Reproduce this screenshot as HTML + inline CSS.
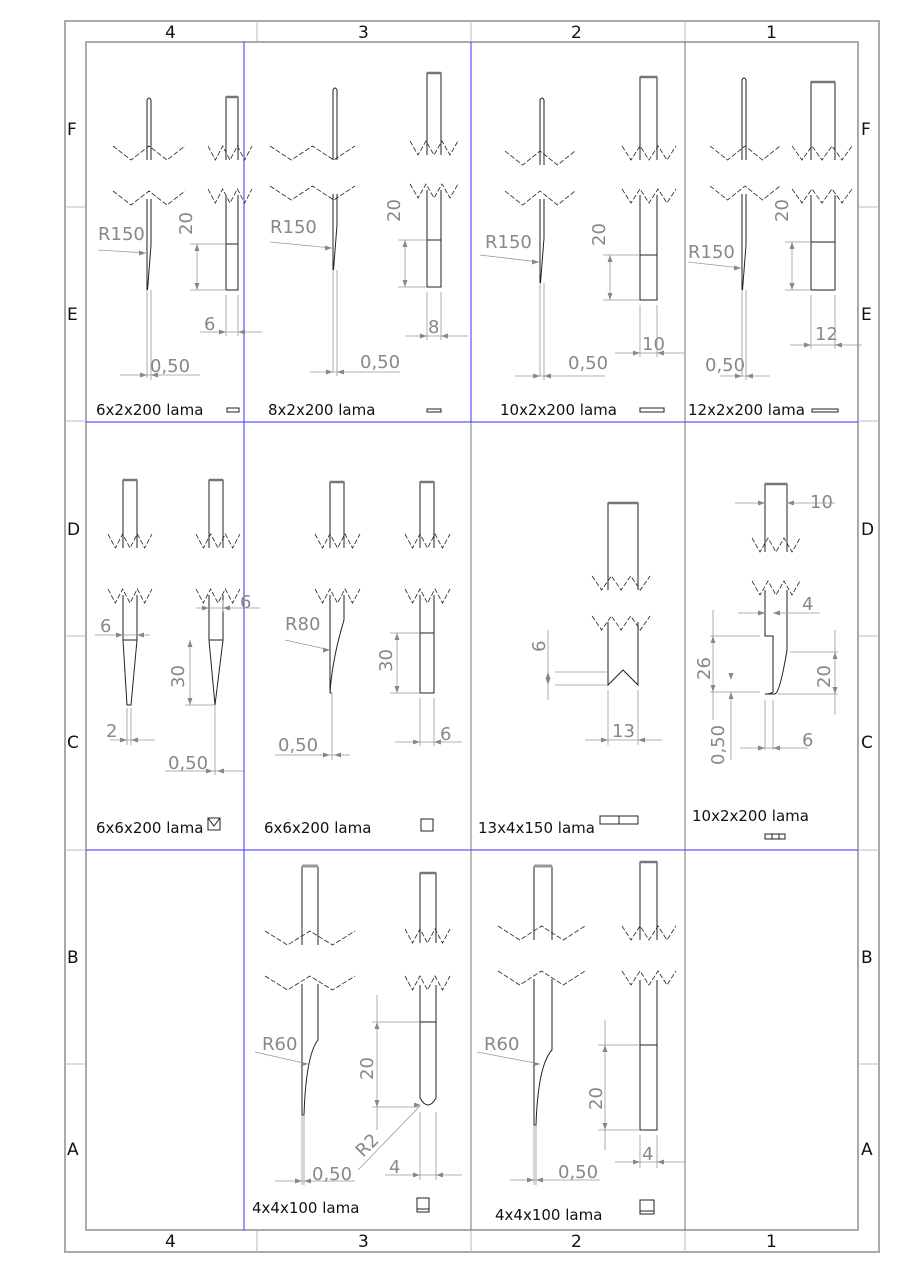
<!DOCTYPE html>
<html><head><meta charset="utf-8"><style>
html,body{margin:0;padding:0;background:#fff;width:900px;height:1273px;overflow:hidden}
svg{display:block}
.t{font-family:"DejaVu Sans","Liberation Sans",sans-serif;font-size:15px;fill:#111}
.d{font-family:"DejaVu Sans","Liberation Sans",sans-serif;font-size:18px;fill:#888}
.b{font-family:"DejaVu Sans","Liberation Sans",sans-serif;font-size:17px;fill:#111}
</style></head><body>
<svg id="s" width="900" height="1273" viewBox="0 0 900 1273" xmlns="http://www.w3.org/2000/svg">
<rect width="900" height="1273" fill="#fff"/>
<g fill="none" stroke="#aaa" stroke-width="2">
<rect x="65" y="21" width="814" height="1231"/>
<rect x="86" y="42" width="772" height="1188"/>
</g>
<g stroke="#bbb" stroke-width="1">
<line x1="257" y1="21" x2="257" y2="42"/><line x1="471" y1="21" x2="471" y2="42"/><line x1="685" y1="21" x2="685" y2="42"/>
<line x1="257" y1="1230" x2="257" y2="1252"/><line x1="471" y1="1230" x2="471" y2="1252"/><line x1="685" y1="1230" x2="685" y2="1252"/>
<line x1="65" y1="207" x2="86" y2="207"/><line x1="65" y1="421" x2="86" y2="421"/><line x1="65" y1="636" x2="86" y2="636"/><line x1="65" y1="850" x2="86" y2="850"/><line x1="65" y1="1064" x2="86" y2="1064"/>
<line x1="858" y1="207" x2="879" y2="207"/><line x1="858" y1="421" x2="879" y2="421"/><line x1="858" y1="636" x2="879" y2="636"/><line x1="858" y1="850" x2="879" y2="850"/><line x1="858" y1="1064" x2="879" y2="1064"/>
</g>
<g stroke="#33f" stroke-width="1">
<line x1="244" y1="42" x2="244" y2="1230"/>
<line x1="86" y1="422" x2="858" y2="422"/>
<line x1="86" y1="850" x2="858" y2="850"/>
<line x1="471" y1="42" x2="471" y2="422"/>
</g>
<g stroke="#777" stroke-width="1">
<line x1="685" y1="42" x2="685" y2="850"/>
<line x1="471" y1="422" x2="471" y2="1230"/>
<line x1="685" y1="850" x2="685" y2="1230"/>
</g>
<g class="b">
<text x="165" y="38">4</text><text x="358" y="38">3</text><text x="571" y="38">2</text><text x="766" y="38">1</text>
<text x="165" y="1247">4</text><text x="358" y="1247">3</text><text x="571" y="1247">2</text><text x="766" y="1247">1</text>
<text x="67" y="135">F</text><text x="67" y="320">E</text><text x="67" y="535">D</text><text x="67" y="748">C</text><text x="67" y="963">B</text><text x="67" y="1155">A</text>
<text x="861" y="135">F</text><text x="861" y="320">E</text><text x="861" y="535">D</text><text x="861" y="748">C</text><text x="861" y="963">B</text><text x="861" y="1155">A</text>
</g>
<g class="t">
<text x="96" y="415">6x2x200 lama</text>
<text x="268" y="415">8x2x200 lama</text>
<text x="500" y="415">10x2x200 lama</text>
<text x="688" y="415">12x2x200 lama</text>
<text x="96" y="833">6x6x200 lama</text>
<text x="264" y="833">6x6x200 lama</text>
<text x="478" y="833">13x4x150 lama</text>
<text x="692" y="821">10x2x200 lama</text>
<text x="252" y="1213">4x4x100 lama</text>
<text x="495" y="1220">4x4x100 lama</text>
</g>
<g class="d">
<text x="98" y="240">R150</text><text x="270" y="233">R150</text><text x="485" y="248">R150</text><text x="688" y="258">R150</text>
<text x="150" y="372">0,50</text><text x="360" y="368">0,50</text><text x="568" y="369">0,50</text><text x="705" y="371">0,50</text>
<text transform="translate(192,235) rotate(-90)">20</text>
<text transform="translate(400,222) rotate(-90)">20</text>
<text transform="translate(605,246) rotate(-90)">20</text>
<text transform="translate(788,222) rotate(-90)">20</text>
<text x="204" y="330">6</text><text x="428" y="333">8</text><text x="642" y="350">10</text><text x="815" y="340">12</text>
<text x="100" y="632">6</text><text x="240" y="608">6</text><text x="106" y="737">2</text><text x="168" y="769">0,50</text>
<text transform="translate(184,688) rotate(-90)">30</text>
<text x="285" y="630">R80</text><text x="278" y="751">0,50</text>
<text transform="translate(392,672) rotate(-90)">30</text><text x="440" y="740">6</text>
<text transform="translate(545,652) rotate(-90)">6</text><text x="612" y="737">13</text>
<text x="810" y="508">10</text><text x="802" y="610">4</text>
<text transform="translate(710,680) rotate(-90)">26</text>
<text transform="translate(830,688) rotate(-90)">20</text>
<text transform="translate(724,765) rotate(-90)">0,50</text>
<text x="802" y="746">6</text>
<text x="262" y="1050">R60</text><text x="312" y="1180">0,50</text>
<text transform="translate(373,1080) rotate(-90)">20</text>
<text transform="translate(363,1158) rotate(-45)">R2</text>
<text x="389" y="1173">4</text>
<text x="484" y="1050">R60</text><text x="558" y="1178">0,50</text>
<text transform="translate(602,1110) rotate(-90)">20</text>
<text x="642" y="1160">4</text>
</g>
<g id="g" fill="none" stroke="#222" stroke-width="1"></g>
<g id="gd" fill="none" stroke="#999" stroke-width="0.8"></g>
<g id="ga" fill="#888"></g>
</svg>
<script>
var G=document.getElementById('g'),D=document.getElementById('gd'),A=document.getElementById('ga');
var NS='http://www.w3.org/2000/svg';
function el(p,t,a){var e=document.createElementNS(NS,t);for(var k in a)e.setAttribute(k,a[k]);p.appendChild(e);return e;}
function L(x1,y1,x2,y2,p){el(p||G,'line',{x1:x1,y1:y1,x2:x2,y2:y2});}
function R(x,y,w,h){el(G,'rect',{x:x,y:y,width:w,height:h});}
function P(d){el(G,'path',{d:d});}
function zig(x0,x1,y,per,a){var s='',i=0;for(var x=x0;x<=x1+0.1;x+=per/2){s+=x+','+(y+(i%2?0:a))+' ';i++;}el(G,'polyline',{points:s,'stroke-dasharray':'5 2','stroke-width':0.8});}
function ar(x,y,dir){var s=7,w=2.5,pts;
 if(dir=='r')pts=[x,y,x-s,y-w,x-s,y+w];if(dir=='l')pts=[x,y,x+s,y-w,x+s,y+w];
 if(dir=='d')pts=[x,y,x-w,y-s,x+w,y-s];if(dir=='u')pts=[x,y,x-w,y+s,x+w,y+s];
 el(A,'polygon',{points:pts.join(',')});}
function hd(xa,xb,y,x0,x1){L(x0,y,x1,y,D);ar(xa,y,'r');ar(xb,y,'l');}
function vd(x,ya,yb,y0,y1){L(x,y0,x,y1,D);ar(x,ya,'u');ar(x,yb,'d');}
function thin(x,top,z1,z2,tip,cl,zx0,zx1,w){w=w||4;
 P('M'+x+' '+z1+' V'+(top+2)+' Q'+(x+w/2)+' '+(top-2)+' '+(x+w)+' '+(top+2)+' V'+z1);
 zig(zx0,zx1,z1,(zx1-zx0)/2,-14);zig(zx0,zx1,z2,(zx1-zx0)/2,-14);
 P('M'+x+' '+(z2-6)+' V'+tip+' M'+(x+w)+' '+(z2-6)+' V'+(tip-45)+' L'+(x+0.5)+' '+tip);
 L(x,tip,x,cl,D);}
function side(x,w,top,z1,z2,bot,mid,zx0,zx1){
 P('M'+x+' '+z1+' V'+top+' H'+(x+w)+' V'+z1);el(G,'line',{x1:x,y1:top,x2:x+w,y2:top,'stroke-width':2.5,stroke:'#777'});
 zig(zx0,zx1,z1,(zx1-zx0)/3,-14);zig(zx0,zx1,z2,(zx1-zx0)/3,-14);
 P('M'+x+' '+(z2-8)+' V'+bot+' H'+(x+w)+' V'+(z2-8));if(mid)L(x,mid,x+w,mid);}
thin(147,98,160,205,290,378,113,185);
side(226,12,97,160,203,290,244,208,252);
L(98,250,146,253,D);ar(146,253,'r');
vd(197,244,290,244,290);L(190,244,226,244,D);L(190,290,226,290,D);
L(226,295,226,336,D);L(238,295,238,336,D);hd(226,238,332,200,262);
hd(147,151,375,120,200);L(151,290,151,380,D);

thin(333,88,160,200,270,372,270,355);
side(427,14,73,155,198,287,240,410,458);
L(270,242,332,248,D);ar(332,248,'r');
vd(405,240,287,240,287);L(398,240,427,240,D);L(398,287,427,287,D);
L(427,292,427,340,D);L(441,292,441,340,D);hd(427,441,336,405,468);
hd(333,337,372,310,400);L(337,270,337,376,D);

thin(540,98,165,205,283,376,505,575);
side(640,17,77,160,203,300,255,622,676);
L(480,255,539,262,D);ar(539,262,'r');
vd(610,255,300,255,300);L(603,255,640,255,D);L(603,300,640,300,D);
L(640,305,640,357,D);L(657,305,657,357,D);hd(640,657,353,615,685);
hd(540,544,376,515,605);L(544,283,544,380,D);

thin(742,78,160,200,290,377,710,780);
side(811,24,82,160,203,290,242,792,852);
L(688,262,741,268,D);ar(741,268,'r');
vd(792,242,290,242,290);L(785,242,811,242,D);L(785,290,811,290,D);
L(811,295,811,349,D);L(835,295,835,349,D);hd(811,835,345,790,862);
hd(742,746,376,720,770);L(746,290,746,380,D);

function side2(x,w,top,z1,z2,zx0,zx1){P('M'+x+' '+z1+' V'+top+' H'+(x+w)+' V'+z1);el(G,'line',{x1:x,y1:top,x2:x+w,y2:top,'stroke-width':2.5,stroke:'#777'});
 zig(zx0,zx1,z1,(zx1-zx0)/3,-14);zig(zx0,zx1,z2,(zx1-zx0)/3,-14);}
side2(123,14,480,548,603,108,152);P('M123 595 V640 L127 705 H131 L137 640 V595');L(123,640,137,640);
hd(123,137,635,95,150);L(127,708,127,745,D);L(131,708,131,745,D);hd(127,131,740,110,155);
side2(209,14,480,548,603,196,240);P('M209 595 V640 L215 705 L223 640 V595');L(209,640,223,640);
vd(190,640,705,640,705);L(185,705,215,705,D);L(223,600,223,612,D);hd(209,223,608,196,260);
L(215,705,215,775,D);hd(213,217,771,165,245);
side2(330,14,482,548,603,315,360);P('M330 595 V693 Q332 660 344 620 V595');L(330,693,332,693);
L(285,640,330,650,D);ar(330,650,'r');L(332,693,332,760,D);hd(330,334,755,275,350);
side2(420,14,482,548,603,405,450);P('M420 595 V693 H434 V595');L(420,633,434,633);
vd(397,633,693,633,693);L(390,633,420,633,D);L(390,693,420,693,D);L(420,698,420,746,D);L(434,698,434,746,D);hd(420,434,742,395,462);
side2(608,30,503,590,630,592,650);P('M608 622 V685 L623 670 L638 685 V622');
L(555,672,608,672,D);L(555,685,608,685,D);vd(548,672,685,630,700);
L(608,690,608,745,D);L(638,690,638,745,D);hd(608,638,740,585,662);
side2(765,22,484,552,595,752,800);P('M765 590 V636 H773 V692 Q771 694 765 694 H775 Q780 692 787 650 V590');
L(735,503,765,503,D);L(787,503,805,503,D);ar(765,503,'r');ar(787,503,'l');L(805,503,835,503,D);
L(738,613,765,613,D);L(773,613,790,613,D);ar(765,613,'r');ar(773,613,'l');L(790,613,820,613,D);
L(710,636,760,636,D);L(710,692,760,692,D);vd(713,636,692,610,720);
L(731,692,731,760,D);ar(731,692,'u');ar(731,680,'d');
L(790,652,838,652,D);L(778,694,838,694,D);vd(835,652,694,630,715);
L(765,700,765,750,D);L(773,700,773,750,D);hd(765,773,748,740,808);
function thin2(x,w,top,z1,z2,tip,cl,zx0,zx1){
 P('M'+x+' '+z1+' V'+(top+2)+' H'+(x+w)+' V'+z1);el(G,'line',{x1:x,y1:top+1,x2:x+w,y2:top+1,'stroke-width':3,stroke:'#999'});
 zig(zx0,zx1,z1,(zx1-zx0)/2,-14);zig(zx0,zx1,z2,(zx1-zx0)/2,-14);
 P('M'+x+' '+(z2-6)+' V'+tip+' H'+(x+2)+' Q'+(x+4)+' '+(tip-60)+' '+(x+w)+' '+(tip-75)+' V'+(z2-6));L(x,tip,x,cl,D);L(x+2,tip,x+2,cl,D);}
thin2(302,16,865,945,990,1115,1185,265,355);
L(255,1052,308,1064,D);ar(308,1064,'r');hd(302,304,1181,275,355);
side2(420,16,873,943,990,405,450);P('M420 985 V1098 Q428 1112 436 1098 V985');L(420,1022,436,1022);
vd(377,1022,1107,995,1130);L(372,1022,420,1022,D);L(372,1107,420,1107,D);
L(358,1170,420,1106,D);ar(421,1105,'r');
L(420,1112,420,1180,D);L(436,1112,436,1180,D);hd(420,436,1175,385,462);
thin2(534,18,865,940,985,1125,1185,498,585);
L(477,1052,540,1064,D);ar(540,1064,'r');hd(534,536,1180,510,600);
side2(640,17,862,940,985,622,676);P('M640 980 V1130 H657 V980');L(640,1045,657,1045);
vd(605,1045,1130,1020,1150);L(598,1045,640,1045,D);L(598,1130,640,1130,D);
L(640,1135,640,1168,D);L(657,1135,657,1168,D);hd(640,657,1162,615,685);
R(227,408,12,4);R(427,409,14,3);R(640,408,24,4);R(812,409,26,3);
R(208,818,12,12);P('M208 818 L214 826 L220 818');R(421,819,12,12);
R(600,816,38,8);L(619,816,619,824);R(765,834,20,5);L(772,834,772,839);L(779,834,779,839);
R(417,1198,12,14);L(417,1209,429,1209);R(640,1200,14,14);L(640,1211,654,1211);
</script>
</body></html>
